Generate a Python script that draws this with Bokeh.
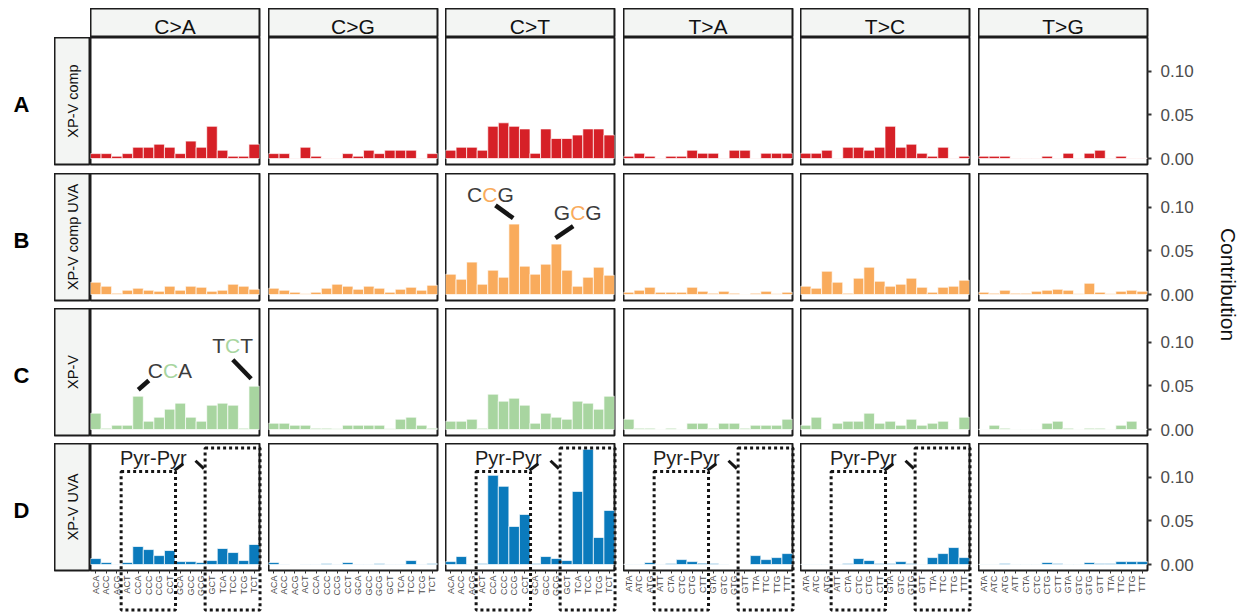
import math
from bokeh.plotting import figure
from bokeh.layouts import gridplot, row
from bokeh.models import Range1d, FixedTicker, PrintfTickFormatter
from bokeh.core.properties import value
from bokeh.embed import file_html
from bokeh.resources import INLINE

# ---------------- data ----------------
mutations = ["C>A", "C>G", "C>T", "T>A", "T>C", "T>G"]
contexts_C = ["ACA", "ACC", "ACG", "ACT", "CCA", "CCC", "CCG", "CCT",
              "GCA", "GCC", "GCG", "GCT", "TCA", "TCC", "TCG", "TCT"]
contexts_T = ["ATA", "ATC", "ATG", "ATT", "CTA", "CTC", "CTG", "CTT",
              "GTA", "GTC", "GTG", "GTT", "TTA", "TTC", "TTG", "TTT"]
samples = ["XP-V comp", "XP-V comp UVA", "XP-V", "XP-V UVA"]
panel_letters = ["A", "B", "C", "D"]
bar_colors = ["#D62027", "#F9AB5C", "#A8D5A0", "#0A7ABC"]

# one list of 16 contributions per mutation type, per sample
xpv_comp = [
    [0.0057, 0.0057, 0.0027, 0.0057, 0.013, 0.013, 0.0165, 0.013, 0.0057, 0.020, 0.013, 0.037, 0.0096, 0.0027, 0.0027, 0.0165],
    [0.0057, 0.0057, 0.0005, 0.013, 0.0027, 0.0005, 0.0005, 0.0057, 0.0027, 0.0096, 0.0057, 0.0096, 0.0096, 0.0096, 0.0005, 0.0057],
    [0.0096, 0.013, 0.013, 0.0096, 0.037, 0.041, 0.037, 0.034, 0.006, 0.034, 0.023, 0.023, 0.027, 0.034, 0.034, 0.027],
    [0.0027, 0.0061, 0.0027, 0.0005, 0.0027, 0.0027, 0.0096, 0.0061, 0.0061, 0.0005, 0.0096, 0.0096, 0.0005, 0.0061, 0.0061, 0.0061],
    [0.0061, 0.0061, 0.0096, 0.0005, 0.013, 0.013, 0.0096, 0.013, 0.037, 0.013, 0.0165, 0.0061, 0.0027, 0.013, 0.0005, 0.0027],
    [0.0027, 0.0027, 0.0027, 0.0005, 0.0005, 0.0005, 0.0027, 0.0005, 0.0061, 0.0005, 0.0061, 0.0096, 0.0005, 0.0027, 0.0005, 0.0005],
]
xpv_comp_uva = [
    [0.0142, 0.0096, 0.0015, 0.005, 0.0073, 0.005, 0.0038, 0.0096, 0.005, 0.0096, 0.0084, 0.0038, 0.005, 0.0119, 0.0096, 0.0061],
    [0.0073, 0.005, 0.0027, 0.0008, 0.0027, 0.0073, 0.0119, 0.0096, 0.0061, 0.0096, 0.0073, 0.0027, 0.0061, 0.0084, 0.005, 0.0107],
    [0.0234, 0.0176, 0.0372, 0.0119, 0.028, 0.0199, 0.0808, 0.0326, 0.0234, 0.0349, 0.0579, 0.028, 0.0096, 0.0199, 0.0314, 0.0222],
    [0.0027, 0.005, 0.0084, 0.0027, 0.0027, 0.0027, 0.0084, 0.0038, 0.0015, 0.0038, 0.0015, 0.0004, 0.0015, 0.0038, 0.0008, 0.0027],
    [0.0096, 0.0073, 0.0268, 0.0142, 0.0015, 0.0188, 0.0314, 0.0153, 0.0096, 0.0119, 0.0188, 0.0084, 0.0027, 0.0084, 0.0096, 0.0165],
    [0.0027, 0.0015, 0.005, 0.0015, 0.0015, 0.0038, 0.005, 0.0061, 0.005, 0.0008, 0.013, 0.0027, 0.0008, 0.0038, 0.005, 0.0038],
]
xpv = [
    [0.0188, 0.0015, 0.005, 0.005, 0.0383, 0.0096, 0.0142, 0.0234, 0.0303, 0.0142, 0.0096, 0.028, 0.0303, 0.028, 0.0015, 0.0498],
    [0.0073, 0.0073, 0.005, 0.005, 0.0015, 0.0015, 0.0008, 0.005, 0.005, 0.005, 0.005, 0.0008, 0.0119, 0.0142, 0.005, 0.0015],
    [0.0096, 0.0096, 0.0119, 0.0015, 0.0406, 0.0326, 0.036, 0.028, 0.0073, 0.0188, 0.0142, 0.0119, 0.0326, 0.0303, 0.0234, 0.0383],
    [0.0119, 0.0015, 0.0015, 0.0004, 0.0015, 0.0004, 0.0073, 0.0073, 0.0015, 0.0073, 0.0073, 0.0015, 0.005, 0.005, 0.005, 0.0119],
    [0.005, 0.0142, 0.0004, 0.0073, 0.0096, 0.0096, 0.0188, 0.0073, 0.0096, 0.005, 0.0119, 0.005, 0.0073, 0.0096, 0.0004, 0.0142],
    [0.0004, 0.005, 0.0015, 0.0004, 0.0004, 0.0004, 0.0073, 0.0096, 0.0015, 0.0004, 0.0015, 0.0015, 0.0004, 0.005, 0.0096, 0.0004],
]
xpv_uva = [
    [0.0069, 0.0023, 0.0003, 0.0023, 0.0207, 0.0172, 0.0103, 0.0161, 0.0034, 0.0034, 0.0023, 0.0046, 0.0184, 0.0138, 0.0046, 0.023],
    [0.0023, 0.0005, 0.0002, 0.0005, 0.0005, 0.0012, 0.0005, 0.0023, 0.0005, 0.0005, 0.0012, 0.0005, 0.0005, 0.0046, 0.0005, 0.0012],
    [0.0034, 0.0092, 0.0003, 0.0011, 0.1023, 0.0897, 0.0437, 0.0575, 0.0011, 0.0092, 0.0069, 0.0046, 0.0839, 0.1322, 0.031, 0.0621],
    [0.0004, 0.0004, 0.0023, 0.0004, 0.0011, 0.0057, 0.0034, 0.0015, 0.0011, 0.0004, 0.0002, 0.0002, 0.0103, 0.0057, 0.008, 0.0126],
    [0.0003, 0.0003, 0.0003, 0.0003, 0.0011, 0.0069, 0.0046, 0.0011, 0.0011, 0.0034, 0.0011, 0.0003, 0.008, 0.0126, 0.0195, 0.008],
    [0.0003, 0.0003, 0.0011, 0.0003, 0.0003, 0.0003, 0.0023, 0.0011, 0.0003, 0.0003, 0.0023, 0.0011, 0.0011, 0.0034, 0.0034, 0.0034],
]
sample_data = [xpv_comp, xpv_comp_uva, xpv, xpv_uva]
y_ticks = [0.0, 0.05, 0.10]

# ---------------- style / layout ----------------
FONT = "Liberation Sans"
EDGE = "#1c1c1c"
STRIP = "#F3F5F3"
GREY = "#4D4D4D"
FW, FH = 169, 127
GAP_R = [9, 8, 9, 8, 9, 64]
GAP_B = [9, 8, 8, 42]
Y0, Y1 = -0.0068, 0.1388


def base_fig(fw, fh, xr, yr, right, bottom, xloc=None, yloc=None):
    p = figure(frame_width=fw, frame_height=fh, x_range=xr, y_range=yr,
               x_axis_location=xloc, y_axis_location=yloc,
               output_backend="svg", toolbar_location=None,
               min_border_left=0, min_border_top=0,
               min_border_right=right, min_border_bottom=bottom)
    p.grid.visible = False
    p.border_fill_color = "white"
    return p


def add_word(p, x, y, left, mid, right, mid_color, size="21px"):
    common = dict(text_font=value(FONT), text_font_size=size, text_baseline="middle")
    p.text(x=[x], y=[y], text=[left], x_offset=-7.6, text_align="right", text_color="#3C3C3C", **common)
    p.text(x=[x], y=[y], text=[mid], text_align="center", text_color=mid_color, **common)
    p.text(x=[x], y=[y], text=[right], x_offset=7.6, text_align="left", text_color="#3C3C3C", **common)


def make_panel(r, c):
    last_col = c == 5
    bottom_row = r == 3
    p = base_fig(FW, FH, Range1d(0.5, 16.5), Range1d(Y0, Y1), GAP_R[c], GAP_B[r],
                 xloc="below" if bottom_row else None,
                 yloc="right" if last_col else None)
    p.background_fill_color = "white"
    p.outline_line_color = EDGE
    p.outline_line_width = 2
    xs = list(range(1, 17))
    p.vbar(x=xs, top=sample_data[r][c], bottom=0, width=1.0,
           fill_color=bar_colors[r], line_color="white", line_width=0.7)

    if bottom_row:
        ctx = contexts_C if c < 3 else contexts_T
        ax = p.xaxis[0]
        ax.ticker = FixedTicker(ticks=xs)
        ax.major_label_overrides = {i + 1: lab for i, lab in enumerate(ctx)}
        ax.major_label_orientation = math.pi / 2
        ax.major_label_text_font = FONT
        ax.major_label_text_font_size = "9px"
        ax.major_label_text_color = GREY
        ax.major_label_standoff = 2
        ax.axis_line_color = None
        ax.major_tick_in = 0
        ax.major_tick_out = 3
        ax.major_tick_line_color = "#333333"
        ax.minor_tick_line_color = None
    if last_col:
        ay = p.yaxis[0]
        ay.ticker = FixedTicker(ticks=y_ticks)
        ay.formatter = PrintfTickFormatter(format="%.2f")
        ay.major_label_text_font = FONT
        ay.major_label_text_font_size = "17px"
        ay.major_label_text_color = GREY
        ay.major_label_standoff = 9
        ay.axis_line_color = None
        ay.major_tick_in = 0
        ay.major_tick_out = 4
        ay.major_tick_line_width = 2
        ay.major_tick_line_color = "#333333"
        ay.minor_tick_line_color = None

    # annotations
    if r == 1 and c == 2:
        add_word(p, 4.7, 0.1148, "C", "C", "G", bar_colors[1])
        add_word(p, 13.02, 0.0945, "G", "C", "G", bar_colors[1])
        p.segment(x0=[5.23, 10.91], y0=[0.1022, 0.0647], x1=[6.91, 12.59], y1=[0.0876, 0.0784],
                  line_width=4.5, line_color="#151515")
    if r == 2 and c == 0:
        add_word(p, 8.07, 0.0678, "C", "C", "A", bar_colors[2])
        add_word(p, 13.96, 0.0964, "T", "C", "T", bar_colors[2])
        p.segment(x0=[5.02, 13.97], y0=[0.0456, 0.080], x1=[6.02, 15.71], y1=[0.0563, 0.0583],
                  line_width=4.5, line_color="#151515")
    if r == 3 and c in (0, 2, 3, 4):
        p.text(x=[6.45], y=[0.1225], text=["Pyr-Pyr"], text_align="center", text_baseline="middle",
               text_font=value(FONT), text_font_size="20px", text_color="#1E1E1E")
        p.segment(x0=[8.45, 10.44], y0=[0.108, 0.119], x1=[9.28, 11.23], y1=[0.1156, 0.110],
                  line_width=3, line_color="#151515")
        p.quad(left=[3.4, 11.35], right=[8.55, 16.55], top=[0.1068, 0.1335], bottom=[-0.052, -0.052],
               fill_color=None, line_color="#151515", line_width=3, line_dash="3 3",
               level="overlay")
    return p


def make_header(c):
    p = base_fig(FW, 29, Range1d(0, 1), Range1d(0, 1), GAP_R[c], 0)
    p.background_fill_color = STRIP
    p.outline_line_color = EDGE
    p.outline_line_width = 2
    p.text(x=[0.5], y=[0.38], text=[mutations[c]], text_align="center", text_baseline="middle",
           text_font=value(FONT), text_font_size="21px", text_color="#111111")
    return p


def make_strip(r):
    p = base_fig(36, FH, Range1d(0, 1), Range1d(0, 1), 0, GAP_B[r])
    p.background_fill_color = STRIP
    p.outline_line_color = EDGE
    p.outline_line_width = 2
    p.text(x=[0.5], y=[0.5], text=[samples[r]], angle=math.pi / 2, text_align="center",
           text_baseline="middle", text_font=value(FONT), text_font_size="14.5px", text_color="#111111")
    return p


def make_letter(r):
    p = base_fig(46, FH, Range1d(0, 46), Range1d(0, FH), 0, GAP_B[r])
    p.outline_line_color = None
    p.text(x=[13], y=[FH / 2 - 3], text=[panel_letters[r]], text_align="center", text_baseline="middle",
           text_font=value(FONT), text_font_size="22px", text_font_style="bold", text_color="#000000")
    return p


grid_rows = [[None, None] + [make_header(c) for c in range(6)]]
for r in range(4):
    grid_rows.append([make_letter(r), make_strip(r)] + [make_panel(r, c) for c in range(6)])
grid = gridplot(grid_rows, toolbar_location=None)

TOTAL_H = 29 + (FH + 9) + (FH + 8) + (FH + 8) + (FH + GAP_B[3])
CW = 32
contrib = base_fig(CW, TOTAL_H, Range1d(0, CW), Range1d(0, TOTAL_H), 0, 0)
contrib.outline_line_color = None
contrib.text(x=[17], y=[TOTAL_H - 276], text=["Contribution"], angle=-math.pi / 2,
             text_align="center", text_baseline="middle", text_font=value(FONT),
             text_font_size="21px", text_color="#111111")

layout = row(grid, contrib, margin=(8, 0, 0, 8))
open("out.html", "w").write(file_html(layout, INLINE))
